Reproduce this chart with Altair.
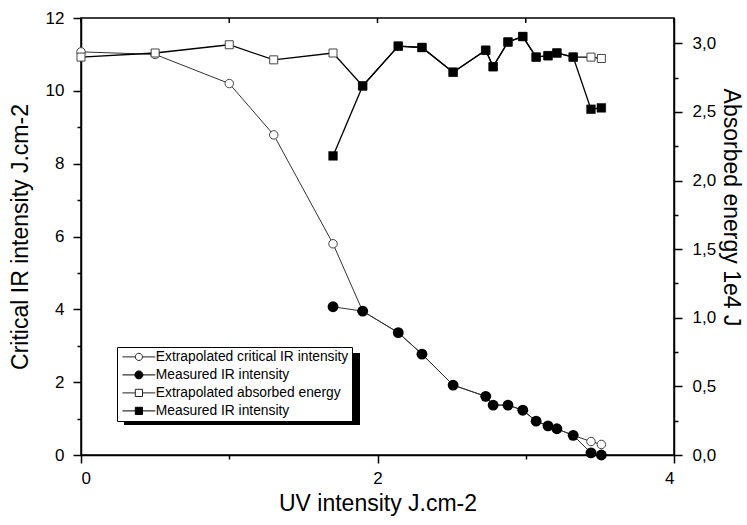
import altair as alt
import pandas as pd

# ---- data ----
x_extrap = [0.0, 0.5, 1.0, 1.3, 1.7, 1.90, 2.14, 2.30, 2.51, 2.73, 2.78, 2.88, 2.98, 3.07, 3.15, 3.21, 3.32, 3.44, 3.51]
ir_extrap = [11.07, 11.0, 10.2, 8.79, 5.8, 3.95, 3.36, 2.77, 1.92, 1.61, 1.37, 1.37, 1.23, 0.93, 0.80, 0.72, 0.54, 0.37, 0.29]
energy_extrap = [2.90, 2.93, 2.99, 2.88, 2.93, 2.69, 2.98, 2.97, 2.79, 2.95, 2.83, 3.01, 3.05, 2.90, 2.91, 2.93, 2.90, 2.90, 2.89]

x_meas = [1.70, 1.90, 2.14, 2.30, 2.51, 2.73, 2.78, 2.88, 2.98, 3.07, 3.15, 3.21, 3.32, 3.44, 3.51]
ir_meas = [4.07, 3.95, 3.36, 2.77, 1.92, 1.61, 1.37, 1.37, 1.23, 0.93, 0.80, 0.72, 0.54, 0.06, 0.0]
energy_meas = [2.18, 2.69, 2.98, 2.97, 2.79, 2.95, 2.83, 3.01, 3.05, 2.90, 2.91, 2.93, 2.90, 2.52, 2.53]

series_keys = ["a", "b", "c", "d"]
series_labels = ["Extrapolated critical IR intensity", "Measured IR intensity",
                 "Extrapolated absorbed energy", "Measured IR intensity"]

x_ticks = [0, 1, 2, 3, 4]
left_ticks = list(range(13))
right_ticks = [i * 0.25 for i in range(13)]

FONT = "Liberation Sans"

ir_a = pd.DataFrame({"x": x_extrap, "v": ir_extrap, "s": "a"})
ir_b = pd.DataFrame({"x": x_meas, "v": ir_meas, "s": "b"})
en_c = pd.DataFrame({"x": x_extrap, "v": energy_extrap, "s": "c"})
en_d = pd.DataFrame({"x": x_meas, "v": energy_meas, "s": "d"})
ir_df = pd.concat([ir_a, ir_b], ignore_index=True)
en_df = pd.concat([en_c, en_d], ignore_index=True)
all_df = pd.concat([ir_df, en_df], ignore_index=True)

x_scale = alt.Scale(domain=[0, 4], nice=False, zero=False)
x_axis = alt.Axis(
    title="UV intensity J.cm-2", values=x_ticks,
    labelExpr="datum.value % 2 === 0 ? datum.label : ''",
    tickSize={"condition": {"test": "datum.value % 2 === 0", "value": 8}, "value": 4},
    labelPadding=7, titlePadding=6,
)
x_enc = alt.X("x:Q", scale=x_scale, axis=x_axis)

left_axis = alt.Axis(
    title="Critical IR intensity J.cm-2", values=left_ticks,
    labelExpr="datum.value % 2 === 0 ? datum.label : ''",
    tickSize={"condition": {"test": "datum.value % 2 === 0", "value": 8}, "value": 4},
    labelPadding=9, titlePadding=13,
)
yL = alt.Y("v:Q", scale=alt.Scale(domain=[0, 12], nice=False), axis=left_axis)

right_axis = alt.Axis(
    title="Absorbed energy  1e4 J", orient="right", values=right_ticks,
    labelExpr="datum.value % 0.5 === 0 ? replace(format(datum.value, '.1f'), '.', ',') : ''",
    tickSize={"condition": {"test": "datum.value % 0.5 === 0", "value": 8}, "value": 4},
    labelPadding=10, titlePadding=3, titleY=189,
)
yR = alt.Y("v:Q", scale=alt.Scale(domain=[0, 3.185], nice=False), axis=right_axis)

# legend symbols: line + marker
p_circ_open = "M-4.1,0L-0.9,0M0.9,0L4.1,0M-0.9,0A0.9,0.9,0,1,1,0.9,0A0.9,0.9,0,1,1,-0.9,0Z"
p_circ_fill = "M-4.1,0L-1,0M1,0L4.1,0M-1,0A1,1,0,1,1,1,0A1,1,0,1,1,-1,0Z"
p_sq = "M-4.1,0L-0.9,0M0.9,0L4.1,0M-0.9,-0.9L0.9,-0.9L0.9,0.9L-0.9,0.9Z"

label_expr = ("datum.value === 'a' ? '%s' : datum.value === 'b' ? '%s' : "
              "datum.value === 'c' ? '%s' : '%s'") % tuple(series_labels)
legend = alt.Legend(
    title=None, orient="none", legendX=36, legendY=329, direction="vertical",
    labelExpr=label_expr, labelFont=FONT, labelFontSize=13.8, labelColor="black", labelLimit=400,
    strokeColor="black", fillColor="white", padding=3, rowPadding=3,
    symbolSize=64, symbolStrokeWidth=1, symbolOpacity=1,
    symbolOffset=12, labelOffset=10,
)

# shadow of the legend box
shadow = alt.Chart(pd.DataFrame({"k": [0]})).mark_rect(color="black").encode(
    x=alt.value(43), x2=alt.value(279), y=alt.value(335), y2=alt.value(407))

top_ticks = alt.Chart(pd.DataFrame({"x": x_ticks})).mark_rule(color="black", strokeWidth=1.5).encode(
    x=x_enc, y=alt.value(0), y2=alt.value(5))

ir_line = alt.Chart(ir_df).mark_line(color="#333333", strokeWidth=1).encode(
    x=x_enc, y=yL, detail="s:N")
ir_open = alt.Chart(ir_a).mark_point(shape="circle", filled=True, fill="white", stroke="#444444",
                                     strokeWidth=1, size=72, opacity=1).encode(x=x_enc, y=yL)
ir_fill = alt.Chart(ir_b).mark_point(shape="circle", filled=True, fill="black", stroke="black",
                                     strokeWidth=0, size=118, opacity=1).encode(x=x_enc, y=yL)

dummy = alt.Chart(all_df).mark_point(opacity=0, strokeWidth=1).encode(
    x=x_enc, y=yL,
    shape=alt.Shape("s:N", scale=alt.Scale(domain=series_keys,
                                           range=[p_circ_open, p_circ_fill, p_sq, p_sq]), legend=legend),
    fill=alt.Fill("s:N", scale=alt.Scale(domain=series_keys,
                                         range=["white", "black", "white", "black"]), legend=legend),
    stroke=alt.Stroke("s:N", scale=alt.Scale(domain=series_keys,
                                             range=["#222222", "black", "#222222", "black"]), legend=legend),
)

left_group = alt.layer(shadow, ir_line, ir_open, ir_fill, dummy, top_ticks)

en_line = alt.Chart(en_df).mark_line(color="black", strokeWidth=1.3).encode(
    x=x_enc, y=yR, detail="s:N")
en_open = alt.Chart(en_c).mark_point(shape="square", filled=True, fill="white", stroke="#444444",
                                     strokeWidth=1, size=64, opacity=1).encode(x=x_enc, y=yR)
en_fill = alt.Chart(en_d).mark_point(shape="square", filled=True, fill="black", stroke="black",
                                     strokeWidth=0.5, size=76, opacity=1).encode(x=x_enc, y=yR)
right_group = alt.layer(en_line, en_open, en_fill)

chart = alt.layer(left_group, right_group).resolve_scale(y="independent").properties(
    width=593, height=437,
    autosize=alt.AutoSizeParams(type="none"),
    padding={"left": 81, "top": 18, "right": 73, "bottom": 70},
    background="white",
).configure_view(stroke="black", strokeWidth=1.5).configure_axis(
    grid=False, domainColor="black", domainWidth=1.5, tickColor="black", tickWidth=1.5,
    labelFont=FONT, labelFontSize=17, labelColor="black",
    titleFont=FONT, titleFontSize=23, titleFontWeight="normal", titleColor="black",
)

chart.save("out.html", embed_options={"renderer": "svg", "actions": False})
